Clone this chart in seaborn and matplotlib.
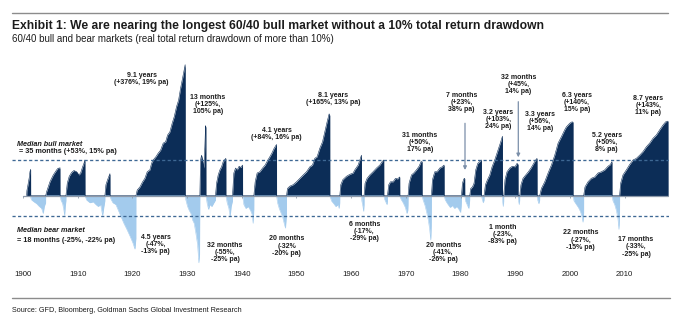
import numpy as np
import matplotlib
matplotlib.use("Agg")
import matplotlib.pyplot as plt
from matplotlib.lines import Line2D
import seaborn as sns

# ---------------- data (cumulative real total return in % within each episode) -------------
bull_year = [
    1900.68, 1900.72, 1900.97, 1901.15, 1901.28, 1901.40, 1901.41,
    1904.15, 1904.33, 1904.62, 1904.93, 1905.24, 1905.54, 1905.85, 1906.16, 1906.45, 1906.63, 1906.76, 1906.77,
    1907.86, 1908.10, 1908.46, 1908.90, 1909.32, 1909.81, 1910.23, 1910.54, 1910.90, 1911.15, 1911.33, 1911.34,
    1914.98, 1915.17, 1915.47, 1915.71, 1915.90, 1915.91,
    1920.65, 1920.89, 1921.38, 1921.87, 1922.29, 1922.72, 1923.20, 1923.51, 1923.81, 1924.30, 1924.72, 1925.16,
    1925.64, 1926.08, 1926.44, 1926.86, 1927.28, 1927.65, 1928.08, 1928.45, 1928.81, 1929.18, 1929.47, 1929.65, 1929.66,
    1932.34, 1932.47, 1932.65, 1932.83, 1933.07, 1933.25, 1933.38, 1933.44, 1933.45,
    1935.20, 1935.39, 1935.69, 1936.00, 1936.30, 1936.60, 1936.91, 1937.09, 1937.10,
    1938.31, 1938.55, 1938.86, 1939.16, 1939.52, 1939.83, 1940.14, 1940.15,
    1942.21, 1942.45, 1942.81, 1943.30, 1943.80, 1944.27, 1944.77, 1945.13, 1945.50, 1945.92, 1946.35, 1946.36,
    1948.18, 1948.36, 1948.78, 1949.39, 1950.00, 1950.61, 1951.22, 1951.83, 1952.44, 1952.92, 1953.35, 1953.77,
    1954.27, 1954.76, 1955.18, 1955.60, 1955.97, 1956.09, 1956.10,
    1957.92, 1958.10, 1958.47, 1959.14, 1959.75, 1960.35, 1960.66, 1961.27, 1961.58, 1961.88, 1961.89,
    1962.36, 1962.54, 1962.91, 1963.40, 1964.00, 1964.63, 1965.23, 1965.65, 1965.96, 1965.97,
    1966.63, 1966.87, 1967.18, 1967.66, 1968.10, 1968.46, 1968.88, 1968.89,
    1970.40, 1970.58, 1971.02, 1971.44, 1971.93, 1972.41, 1972.78, 1972.96, 1972.97,
    1974.67, 1974.86, 1975.28, 1975.70, 1976.19, 1976.61, 1976.98, 1976.99,
    1980.16, 1980.34, 1980.58, 1980.76, 1980.77,
    1981.67, 1981.86, 1982.17, 1982.46, 1982.77, 1983.14, 1983.50, 1983.81, 1983.82,
    1984.29, 1984.54, 1984.91, 1985.33, 1985.75, 1986.24, 1986.66, 1987.03, 1987.34, 1987.65, 1987.66,
    1987.89, 1988.12, 1988.49, 1988.98, 1989.47, 1989.95, 1990.32, 1990.50, 1990.51,
    1990.81, 1991.04, 1991.41, 1991.90, 1992.39, 1992.87, 1993.36, 1993.73, 1993.97, 1993.98,
    1994.46, 1994.77, 1995.38, 1995.99, 1996.60, 1997.21, 1997.82, 1998.43, 1999.03, 1999.34, 1999.95, 2000.37,
    2000.55, 2000.56,
    2002.50, 2002.74, 2003.29, 2003.90, 2004.51, 2005.12, 2005.74, 2006.34, 2006.95, 2007.38, 2007.67, 2007.68,
    2009.07, 2009.26, 2009.68, 2010.30, 2010.91, 2011.52, 2012.13, 2012.74, 2013.34, 2013.95, 2014.56, 2015.17,
    2015.78, 2016.39, 2017.00, 2017.49, 2017.91, 2017.92,
]
bull_pct = [
    0, 6, 16, 24, 33, 37, 0,
    0, 5, 11, 18, 23, 28, 32, 36, 39, 36, 40, 0,
    0, 16, 26, 32, 35, 33, 28, 31, 41, 47, 53, 0,
    0, 14, 21, 26, 30, 0,
    0, 7, 11, 18, 23, 33, 36, 47, 53, 59, 66, 72,
    87, 90, 106, 114, 137, 156, 189, 212, 259, 305, 347, 376, 0,
    0, 53, 62, 53, 39, 79, 130, 125, 0,
    0, 16, 28, 36, 41, 50, 54, 56, 0,
    0, 31, 39, 36, 42, 40, 44, 0,
    0, 18, 31, 33, 39, 44, 53, 59, 66, 76, 84, 0,
    0, 9, 12, 14, 18, 23, 28, 33, 41, 44, 56, 59,
    76, 90, 114, 141, 165, 160, 0,
    0, 14, 21, 26, 29, 31, 36, 44, 53, 62, 0,
    0, 16, 23, 28, 33, 39, 44, 50, 53, 0,
    0, 14, 18, 18, 23, 22, 25, 0,
    0, 16, 28, 31, 36, 42, 50, 50, 0,
    0, 21, 33, 33, 39, 41, 44, 0,
    0, 16, 22, 23, 0,
    0, 9, 11, 16, 36, 47, 50, 53, 0,
    0, 14, 21, 28, 41, 53, 66, 79, 90, 103, 0,
    0, 21, 33, 39, 42, 41, 47, 45, 0,
    0, 14, 23, 28, 33, 39, 47, 53, 56, 0,
    0, 9, 18, 31, 44, 62, 87, 102, 119, 127, 137, 141,
    140, 0,
    0, 11, 18, 23, 25, 31, 33, 36, 42, 45, 50, 0,
    0, 16, 28, 36, 45, 53, 56, 62, 69, 79, 87, 98,
    106, 119, 132, 141, 143, 0,
]
bear_year = [
    1901.41, 1901.45, 1901.59, 1902.01, 1902.50, 1902.98, 1903.41, 1903.71, 1903.90, 1904.14, 1904.15,
    1906.77, 1906.94, 1907.25, 1907.49, 1907.62, 1907.73, 1907.85, 1907.86,
    1911.34, 1911.64, 1912.24, 1912.85, 1913.34, 1913.76, 1914.20, 1914.56, 1914.80, 1914.97, 1914.98,
    1915.91, 1916.08, 1916.44, 1916.99, 1917.36, 1917.90, 1918.45, 1919.00, 1919.55, 1920.10, 1920.47, 1920.64, 1920.65,
    1929.66, 1929.78, 1930.09, 1930.39, 1930.70, 1931.00, 1931.30, 1931.61, 1931.92, 1932.16, 1932.28, 1932.34,
    1933.45, 1933.68, 1933.93, 1934.17, 1934.53, 1934.90, 1935.19, 1935.20,
    1937.10, 1937.33, 1937.64, 1937.88, 1938.06, 1938.30, 1938.31,
    1940.15, 1940.38, 1940.75, 1941.17, 1941.60, 1941.90, 1942.08, 1942.20, 1942.21,
    1946.36, 1946.54, 1946.84, 1947.14, 1947.45, 1947.75, 1947.99, 1948.17, 1948.18,
    1956.10, 1956.40, 1956.82, 1957.19, 1957.61, 1957.80, 1957.91, 1957.92,
    1961.89, 1961.95, 1962.15, 1962.28, 1962.35, 1962.36,
    1965.97, 1966.10, 1966.40, 1966.55, 1966.62, 1966.63,
    1968.89, 1969.10, 1969.50, 1969.90, 1970.20, 1970.35, 1970.39, 1970.40,
    1972.97, 1973.15, 1973.50, 1973.85, 1974.10, 1974.35, 1974.55, 1974.63, 1974.66, 1974.67,
    1976.99, 1977.20, 1977.60, 1978.10, 1978.50, 1978.90, 1979.30, 1979.70, 1980.00, 1980.10, 1980.15, 1980.16,
    1980.77, 1980.90, 1981.20, 1981.50, 1981.60, 1981.66, 1981.67,
    1983.82, 1983.95, 1984.15, 1984.28, 1984.29,
    1987.66, 1987.72, 1987.80, 1987.88, 1987.89,
    1990.51, 1990.60, 1990.72, 1990.80, 1990.81,
    1993.98, 1994.10, 1994.30, 1994.45, 1994.46,
    2000.56, 2000.73, 2001.17, 2001.53, 2001.90, 2002.19, 2002.38, 2002.49, 2002.50,
    2007.68, 2007.86, 2008.17, 2008.48, 2008.77, 2008.95, 2009.05, 2009.07,
]
bear_pct = [
    0, -3, -5, -7, -9, -12, -14, -19, -12, -8, 0,
    0, -5, -9, -16, -21, -12, -6, 0,
    0, -5, -8, -7, -10, -12, -10, -21, -12, -6, 0,
    0, -4, -8, -10, -15, -22, -28, -33, -38, -43, -47, -40, 0,
    0, -5, -12, -16, -19, -25, -28, -36, -44, -55, -50, 0,
    0, -9, -15, -10, -12, -8, -5, 0,
    0, -8, -14, -22, -12, -6, 0,
    0, -10, -14, -12, -16, -20, -28, -15, 0,
    0, -8, -14, -18, -22, -28, -32, -20, 0,
    0, -6, -9, -12, -10, -14, -8, 0,
    0, -6, -12, -17, -10, 0,
    0, -4, -8, -10, -6, 0,
    0, -4, -8, -13, -19, -16, -10, 0,
    0, -5, -11, -19, -25, -33, -41, -30, -15, 0,
    0, -5, -9, -13, -11, -14, -12, -15, -18, -12, -6, 0,
    0, -6, -10, -14, -9, -5, 0,
    0, -4, -8, -5, 0,
    0, -8, -12, -6, 0,
    0, -6, -10, -5, 0,
    0, -5, -9, -5, 0,
    0, -6, -10, -13, -17, -22, -27, -18, 0,
    0, -6, -10, -16, -24, -33, -20, 0,
]
median_bull_pct = 53
median_bear_pct = -21
decades = list(range(1900, 2011, 10))

bull_labels = [
    "9.1 years\n(+376%, 19% pa)", "13 months\n(+125%,\n105% pa)", "4.1 years\n(+84%, 16% pa)",
    "8.1 years\n(+165%, 13% pa)", "31 months\n(+50%,\n17% pa)", "7 months\n(+23%,\n38% pa)",
    "3.2 years\n(+103%,\n24% pa)", "32 months\n(+45%,\n14% pa)", "3.3 years\n(+56%,\n14% pa)",
    "6.3 years\n(+140%,\n15% pa)", "5.2 years\n(+50%,\n8% pa)", "8.7 years\n(+143%,\n11% pa)",
]
bear_labels = [
    "4.5 years\n(-47%,\n-13% pa)", "32 months\n(-55%,\n-25% pa)", "20 months\n(-32%\n-20% pa)",
    "6 months\n(-17%,\n-29% pa)", "20 months\n(-41%,\n-26% pa)", "1 month\n(-23%,\n-83% pa)",
    "22 months\n(-27%,\n-15% pa)", "17 months\n(-33%,\n-25% pa)",
]

# ---------------- layout (pixel positions) ----------------
bull_label_pos = [(141.7, 79.2), (208, 104.8), (276.7, 133.8), (333.5, 99.2), (420, 142.8),
                  (461.7, 102.5), (498.3, 119.2), (518.3, 84.7), (540, 121.7), (576.7, 102.5),
                  (606.7, 142.8), (648.3, 105.8)]
bear_label_pos = [(155.7, 244.5), (225, 252.5), (286.7, 246), (364.3, 231.2), (443.3, 252.5),
                  (502.7, 234.7), (580.7, 240), (636, 247)]

NAVY = "#0c2d57"
LIGHT = "#a3cbed"
DASH = "#3e6894"
TXT = "#1c1c1c"

sns.set_theme(style="white")
plt.rcParams["font.family"] = ["Liberation Sans", "DejaVu Sans"]

W, H = 679, 329
fig = plt.figure(figsize=(W / 100, H / 100), dpi=100)
fx = lambda px: px / W
fy = lambda py: 1 - py / H

ax = fig.add_axes([fx(12), fy(266), (669 - 12) / W, (266 - 62) / H])

by = np.log1p(np.array(bull_pct) / 100.0)
ry = np.log1p(np.array(bear_pct) / 100.0)
bx = np.array(bull_year)
rx = np.array(bear_year)

ax.fill_between(rx, 0, ry, color=LIGHT, lw=0)
sns.lineplot(x=rx, y=ry, color=LIGHT, lw=0.4, ax=ax, sort=False, estimator=None)
ax.fill_between(bx, 0, by, color=NAVY, lw=0)
sns.lineplot(x=bx, y=by, color=NAVY, lw=0.4, ax=ax, sort=False, estimator=None)

ax.plot([1900, 2018.0], [0, 0], color="#8d99a9", lw=0.9, zorder=3)
ax.vlines(decades, -0.03, 0, color="#8d99a9", lw=0.6, zorder=3)

ax.hlines(np.log1p(median_bull_pct / 100), 1898, 2018.1, colors=DASH, lw=0.95,
          linestyles=(0, (2.4, 1.8)), zorder=4)
ax.hlines(np.log1p(median_bear_pct / 100), 1898, 2018.1, colors=DASH, lw=0.95,
          linestyles=(0, (2.4, 1.8)), zorder=4)

ax.set_xlim(1898, 2018.1)
ax.set_ylim(-0.837, 1.592)
for s in ax.spines.values():
    s.set_visible(False)
ax.set_yticks([])
ax.set_xticks(decades)
ax.set_xticklabels([str(d) for d in decades])
ax.tick_params(axis="x", length=0, pad=3.5, labelsize=5.7, labelcolor=TXT)
ax.set_xlabel("")
ax.set_ylabel("")

# annotations
akw = dict(ha="center", va="center", fontsize=5.0, fontweight="bold", color=TXT, linespacing=1.02)
for (px, py), t in zip(bull_label_pos, bull_labels):
    fig.text(fx(px), fy(py), t, **akw)
for (px, py), t in zip(bear_label_pos, bear_labels):
    fig.text(fx(px), fy(py), t, **akw)

mkw = dict(ha="left", va="center", fontsize=5.2, fontweight="bold", color=TXT)
fig.text(fx(17.3), fy(144.3), "Median bull market", fontstyle="italic", **mkw)
fig.text(fx(17.3), fy(151.7), " = 35 months (+53%, 15% pa)", **mkw)
fig.text(fx(17.3), fy(230.7), "Median bear market", fontstyle="italic", **mkw)
fig.text(fx(17.3), fy(240), "= 18 months (-25%, -22% pa)", **mkw)

# arrows
arrow_kw = dict(arrowstyle="-|>", color="#7b8fa9", lw=0.9, mutation_scale=5, shrinkA=0, shrinkB=0)
ax.annotate("", xy=(465, H - 170), xytext=(465, H - 123.3), xycoords="figure pixels",
            textcoords="figure pixels", arrowprops=arrow_kw)
ax.annotate("", xy=(518.3, H - 157.3), xytext=(518.3, H - 101.7), xycoords="figure pixels",
            textcoords="figure pixels", arrowprops=arrow_kw)

# header / footer
fig.add_artist(Line2D([fx(12), fx(668)], [fy(13), fy(13)], color="#8c8c8c", lw=1.0))
fig.add_artist(Line2D([fx(12), fx(670)], [fy(298), fy(298)], color="#8c8c8c", lw=1.0))
fig.text(fx(12), fy(25.5), "Exhibit 1: We are nearing the longest 60/40 bull market without a 10% total return drawdown",
         ha="left", va="center", fontsize=8.7, fontweight="bold", color=TXT)
fig.text(fx(12), fy(39), "60/40 bull and bear markets (real total return drawdown of more than 10%)",
         ha="left", va="center", fontsize=7.0, color=TXT)
fig.text(fx(12), fy(310), "Source: GFD, Bloomberg, Goldman Sachs Global Investment Research",
         ha="left", va="center", fontsize=5.2, color=TXT)

fig.savefig("out.png", dpi=100)
